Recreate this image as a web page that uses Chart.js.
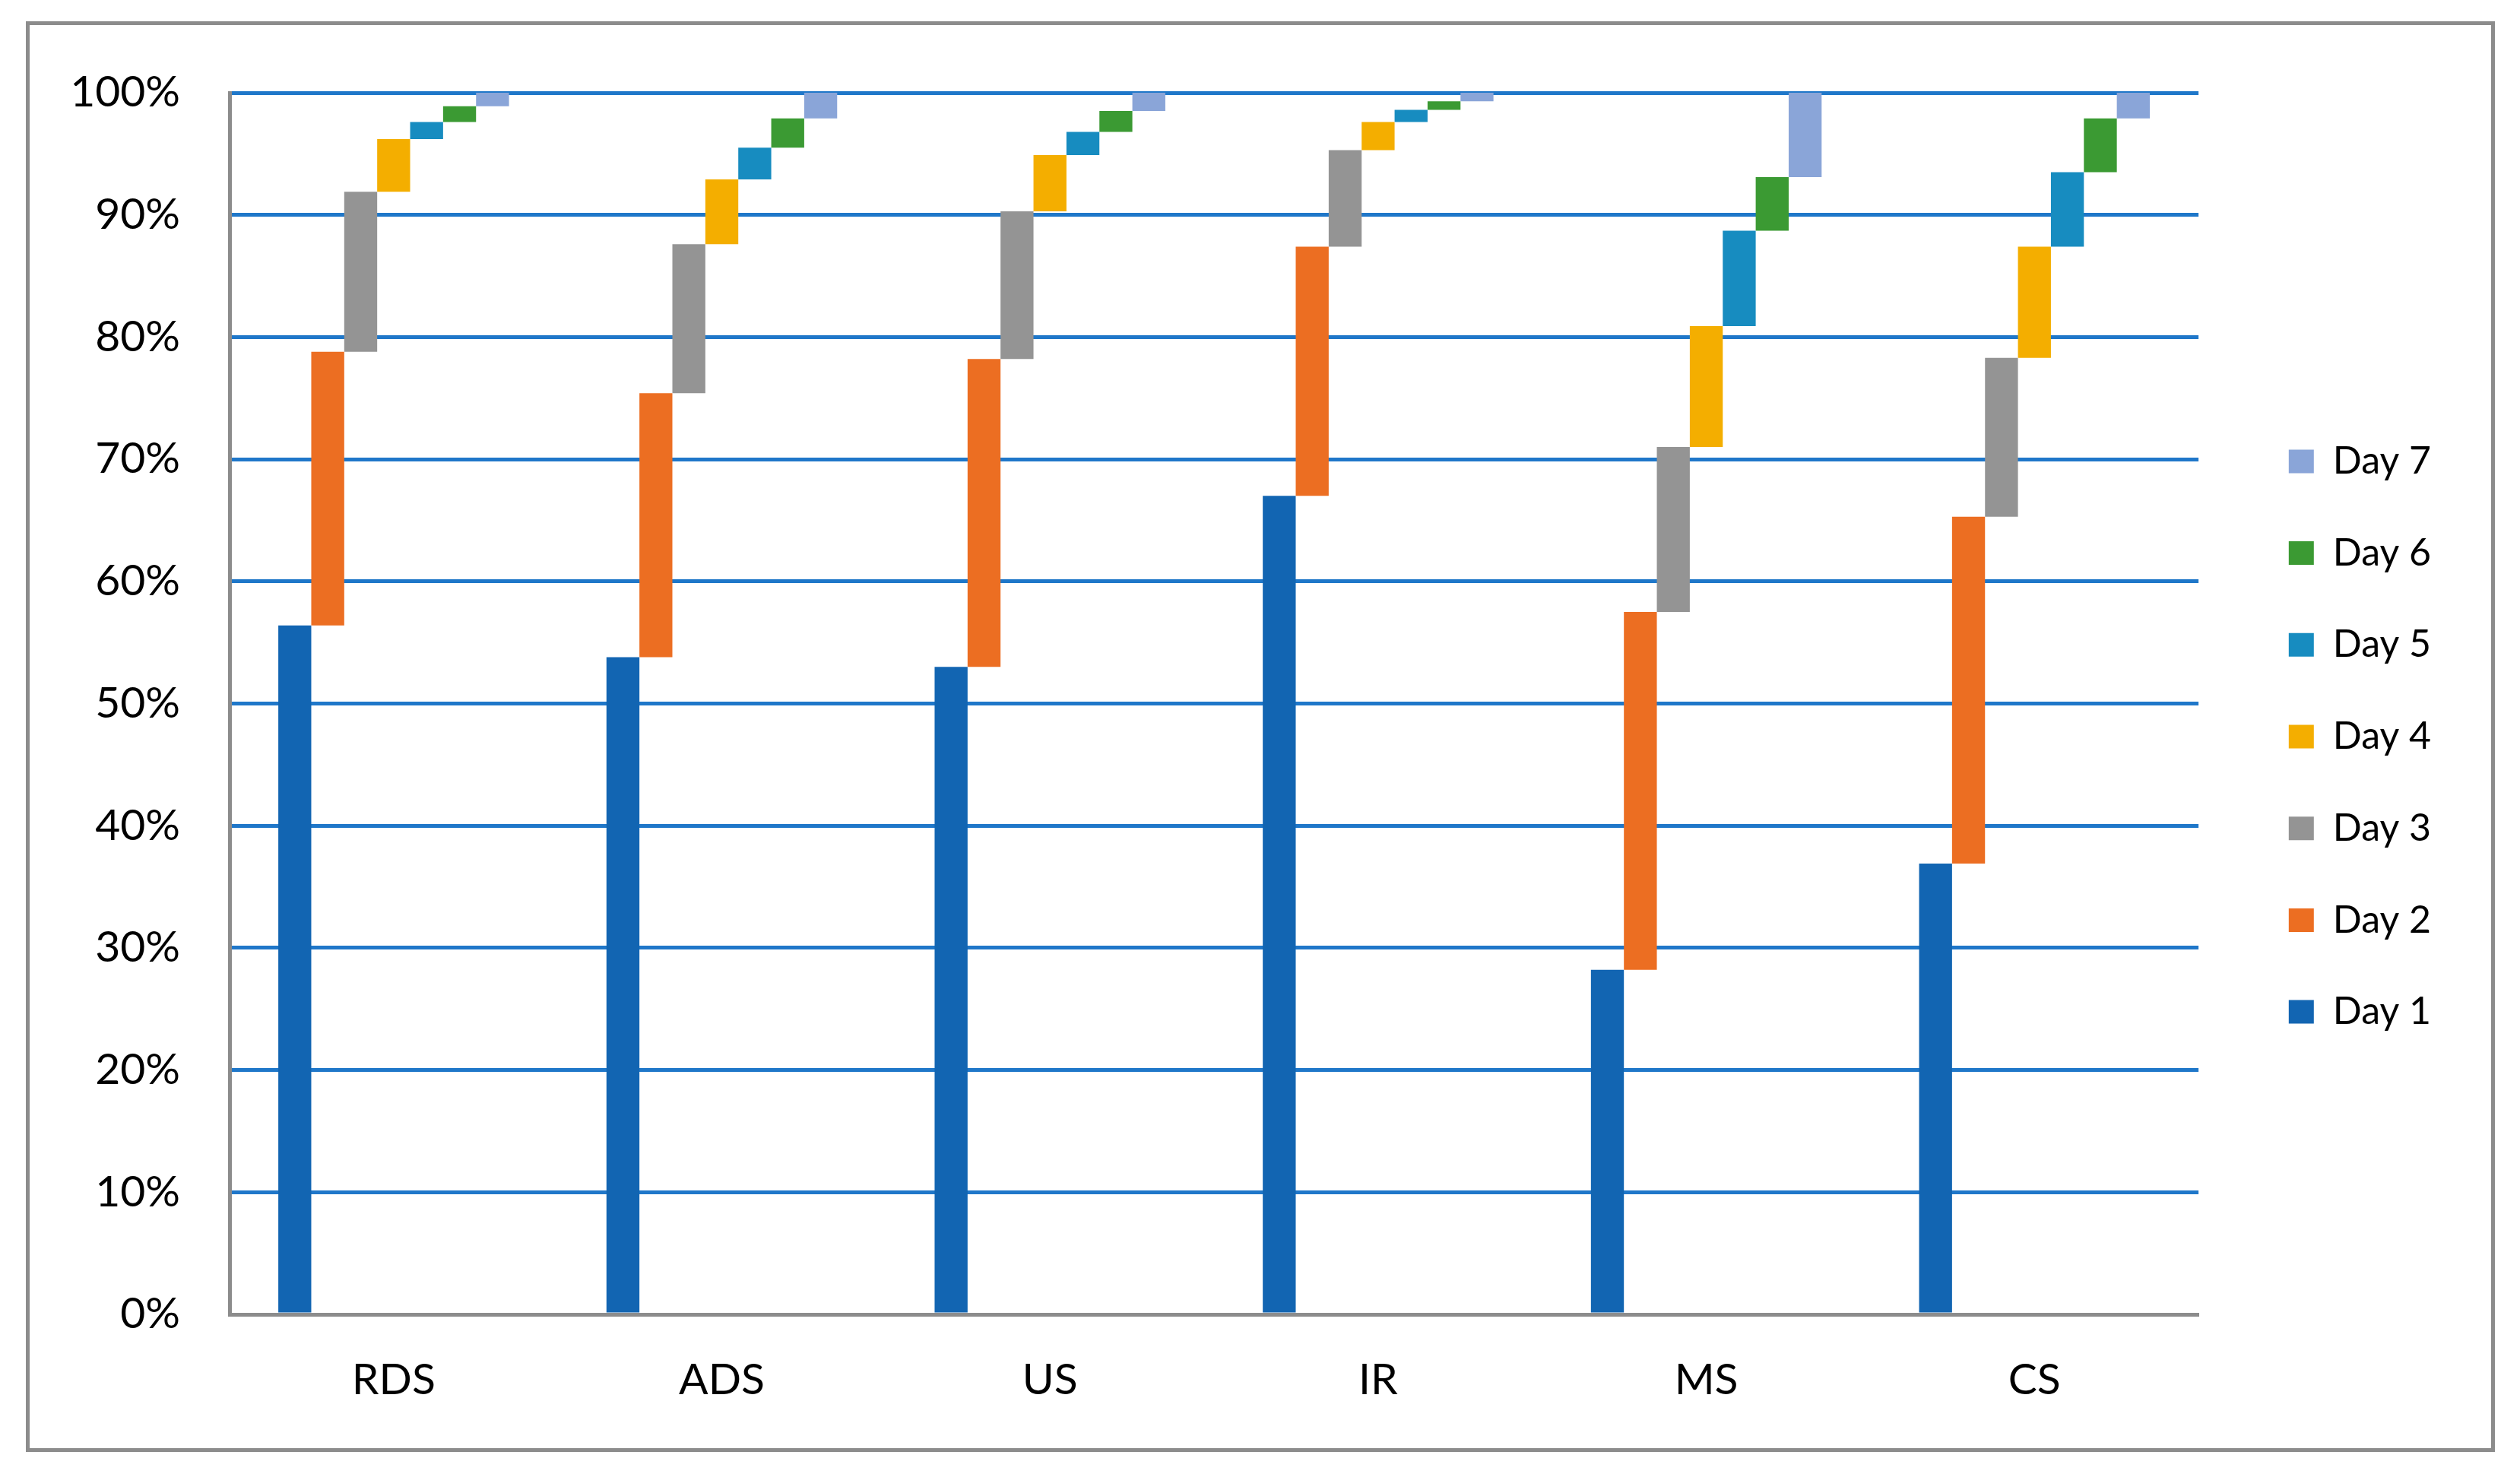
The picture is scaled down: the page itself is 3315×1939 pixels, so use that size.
<!DOCTYPE html>
<html>
<head>
<meta charset="utf-8">
<title>Cumulative share by day</title>
<script src="https://cdn.jsdelivr.net/npm/chart.js@4.4.1/dist/chart.umd.min.js"></script>
<style>
  html, body { margin: 0; padding: 0; background: #fff; }
  body { width: 3315px; height: 1939px; position: relative; overflow: hidden; }
  #frame {
    position: absolute;
    left: 34px;
    top: 28px;
    width: 3248px;
    height: 1882px;
    box-sizing: border-box;
    border: 5px solid #8c8c8c;
  }
  #wrap { position: relative; width: 3238px; height: 1872px; }
</style>
</head>
<body>
<div id="frame"><div id="wrap"><canvas id="dayChart"></canvas></div></div>
<script>
const categories = ["RDS", "ADS", "US", "IR", "MS", "CS"];
const dayLabels = ["Day 1", "Day 2", "Day 3", "Day 4", "Day 5", "Day 6", "Day 7"];

// cumulative share (%) reached at the end of each day
const day1 = [56.4, 53.8, 53.0, 67.0, 28.2, 36.9];
const day2 = [78.8, 75.4, 78.2, 87.4, 57.5, 65.3];
const day3 = [91.9, 87.6, 90.3, 95.3, 71.0, 78.3];
const day4 = [96.2, 92.9, 94.9, 97.6, 80.9, 87.4];
const day5 = [97.6, 95.5, 96.8, 98.6, 88.7, 93.5];
const day6 = [98.9, 97.9, 98.5, 99.3, 93.1, 97.9];
const day7 = [100, 100, 100, 100, 100, 100];

const yMin = 0;
const yMax = 100;
const yStep = 10;

const dayColors = ["#1265b2", "#ec6e22", "#949494", "#f4ae00", "#178cc0", "#3b9a33", "#8aa5d8"];

Chart.defaults.font.family = "Lato, 'Open Sans', sans-serif";

const cumulative = [day1, day2, day3, day4, day5, day6, day7];

// each day is a floating bar from the previous day's total to its own
const datasets = cumulative.map((ends, i) => ({
    label: dayLabels[i],
    data: ends.map((end, j) => [i === 0 ? yMin : cumulative[i - 1][j], end]),
    backgroundColor: dayColors[i],
    borderWidth: 0,
    barPercentage: 1,
    categoryPercentage: 0.703,
    xAxisID: "x",
    yAxisID: "y"
}));

// blank scale used only to reserve room, nothing is drawn
function spacer(position, size) {
    return {
        type: "linear",
        position: position,
        grid: { display: false, drawTicks: false },
        border: { display: false },
        ticks: { display: false },
        afterFit: scale => {
            if (scale.isHorizontal()) scale.height = size;
            else scale.width = size;
        }
    };
}

const ctx = document.getElementById("dayChart").getContext("2d");

new Chart(ctx, {
    type: "bar",
    data: {
        labels: categories,
        datasets: datasets
    },
    options: {
        responsive: true,
        maintainAspectRatio: false,
        animation: false,
        layout: {
            padding: { top: 0, bottom: 0, left: 0, right: 69 }
        },
        plugins: {
            legend: {
                position: "right",
                reverse: true,
                maxWidth: 270,
                labels: {
                    boxWidth: 33,
                    boxHeight: 31,
                    padding: 70.7,
                    color: "#000",
                    font: { size: 50 }
                }
            },
            tooltip: { enabled: false }
        },
        scales: {
            x: {
                grid: { display: false, drawTicks: false },
                border: { display: true, color: "#8c8c8c", width: 5 },
                ticks: {
                    color: "#000",
                    padding: 52,
                    font: { size: 57 }
                },
                afterFit: scale => { scale.height = 176; }
            },
            y: {
                min: yMin,
                max: yMax,
                grid: {
                    color: c => c.tick && c.tick.value === 0 ? "rgba(0,0,0,0)" : "#1f77c9",
                    lineWidth: 5,
                    drawTicks: false
                },
                border: { display: true, color: "#8c8c8c", width: 5 },
                ticks: {
                    stepSize: yStep,
                    padding: 65,
                    color: "#000",
                    font: { size: 57 },
                    callback: v => v + "%"
                },
                afterFit: scale => {
                    scale.width = 263;
                    // the label gap is horizontal only, don't let it push the plot down
                    scale.paddingTop = 0;
                    scale.paddingBottom = 0;
                }
            },
            topGap: spacer("top", 89),
            rightGap: spacer("right", 48)
        }
    }
});
</script>
</body>
</html>
